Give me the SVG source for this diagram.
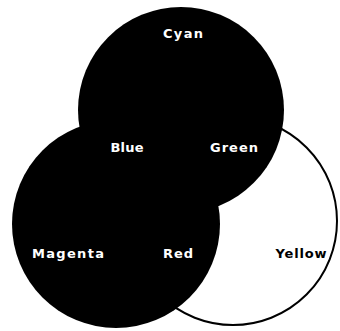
<svg xmlns="http://www.w3.org/2000/svg" width="340" height="331" viewBox="0 0 340 331">
<style>
.lbl{font-family:"DejaVu Sans","Liberation Sans",sans-serif;font-weight:bold;font-size:13px;text-anchor:middle}
.w{fill:#fff}
.k{fill:#000}
.solid{fill:#000;stroke:none}
</style>
<rect x="0" y="0" width="340" height="331" fill="#fff"/>
<g id="yellow">
<circle cx="233" cy="221" r="104" fill="#fff" stroke="#000" stroke-width="2"/>
</g>
<g id="cyan">
<circle class="solid" cx="181" cy="110" r="103"/>
</g>
<g id="magenta">
<circle class="solid" cx="116" cy="224" r="104"/>
</g>
<g id="label-cyan"><text class="lbl w" x="183" y="38" textLength="40" lengthAdjust="spacing">Cyan</text></g>
<g id="label-blue"><text class="lbl w" x="127" y="152" textLength="33" lengthAdjust="spacing">Blue</text></g>
<g id="label-green"><text class="lbl w" x="234" y="152" textLength="48" lengthAdjust="spacing">Green</text></g>
<g id="label-magenta"><text class="lbl w" x="68" y="258" textLength="72" lengthAdjust="spacing">Magenta</text></g>
<g id="label-red"><text class="lbl w" x="178" y="258" textLength="30" lengthAdjust="spacing">Red</text></g>
<g id="label-yellow"><text class="lbl k" x="301" y="258" textLength="51" lengthAdjust="spacing">Yellow</text></g>
</svg>
